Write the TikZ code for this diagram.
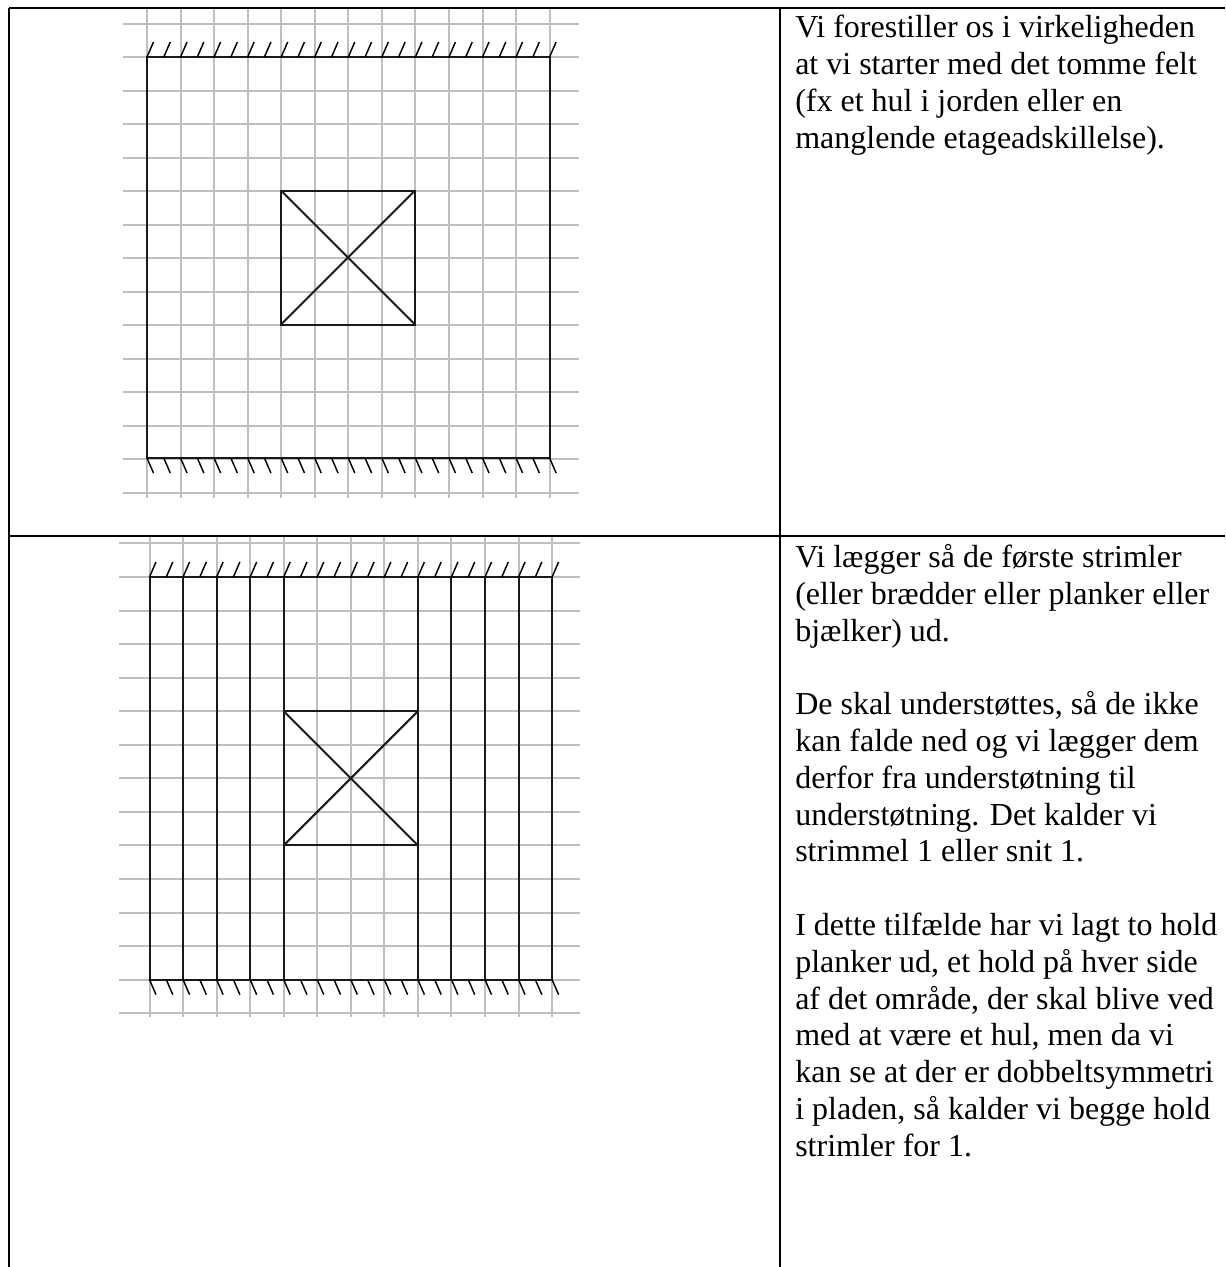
\documentclass[tikz,border=0pt]{standalone}
\usepackage{fontspec}
\setmainfont{Liberation Serif}
\usetikzlibrary{positioning}

\begin{document}
\begin{tikzpicture}[
  x=0.75pt,
  y=-0.75pt,
  rule/.style={draw=black, line width=1.5pt},
  raster/.style={draw=black!25, line width=1.5pt},
  member/.style={draw=black!90, line width=1.5pt},
  hatch/.style={draw=black, line width=1.1pt},
  celltext/.style={
    anchor=north west,
    align=left,
    inner sep=0pt,
    font=\fontsize{24}{27.6}\selectfont
  }
]
\useasboundingbox (0,0) rectangle (1225,1267);

% first row
\foreach \gx in {0,...,12}
  \draw[raster] ({147+33.55*\gx},9) -- ({147+33.55*\gx},498);
\foreach \gy in {-1,0,...,13}
  \draw[raster] (123,{57+33.5*\gy}) -- (579,{57+33.5*\gy});
\draw[member] (147,57) rectangle (549.5,458);
\draw[member] (281,190.5) rectangle (415,324.5);
\draw[member] (281,190.5) -- (415,324.5);
\draw[member] (415,190.5) -- (281,324.5);
\foreach \hx in {0,...,24} {
  \draw[hatch] ({147+16.775*\hx},57) -- ++(6.5,-15);
  \draw[hatch] ({147+16.775*\hx},458) -- ++(6.5,15);
}

% second row
\foreach \gx in {0,...,12}
  \draw[raster] ({149.5+33.55*\gx},537) -- ({149.5+33.55*\gx},1017);
\foreach \gy in {-1,0,...,13}
  \draw[raster] (119,{577+33.55*\gy}) -- (580,{577+33.55*\gy});
\foreach \gx in {0,1,2,3,4,8,9,10,11,12}
  \draw[member] ({149.5+33.55*\gx},577) -- ({149.5+33.55*\gx},979.6);
\draw[member] (149.5,577) -- (552.1,577);
\draw[member] (149.5,979.6) -- (552.1,979.6);
\draw[member] (283.7,711.2) rectangle (417.9,845.4);
\draw[member] (283.7,711.2) -- (417.9,845.4);
\draw[member] (417.9,711.2) -- (283.7,845.4);
\foreach \hx in {0,...,24} {
  \draw[hatch] ({149.5+16.775*\hx},577) -- ++(6.5,-15);
  \draw[hatch] ({149.5+16.775*\hx},979.6) -- ++(6.5,15);
}

% table rules
\coordinate (topleft) at (9,8);
\coordinate (topright) at (1225,8);
\coordinate (midleft) at (9,536);
\coordinate (midright) at (1225,536);
\coordinate (botleft) at (9,1267);
\coordinate (topcol) at (780,8);
\coordinate (botcol) at (780,1267);
\draw[rule] (topleft) -- (topright);
\draw[rule] (midleft) -- (midright);
\draw[rule] (topleft) -- (botleft);
\draw[rule] (topcol) -- (botcol);

\node[celltext] (introtext) at (795,15)
  {Vi forestiller os i virkeligheden\\at vi starter med det tomme felt\\(fx et hul i jorden eller en\\manglende etageadskillelse).};
\node[celltext] (stripstext) at (795,544)
  {Vi lægger så de første strimler\\(eller brædder eller planker eller\\bjælker) ud.\\[27.6pt]De skal understøttes, så de ikke\\kan falde ned og vi lægger dem\\derfor fra understøtning til\\understøtning. Det kalder vi\\strimmel 1 eller snit 1.\\[27.6pt]I dette tilfælde har vi lagt to hold\\planker ud, et hold på hver side\\af det område, der skal blive ved\\med at være et hul, men da vi\\kan se at der er dobbeltsymmetri\\i pladen, så kalder vi begge hold\\strimler for 1.};
\end{tikzpicture}
\end{document}
